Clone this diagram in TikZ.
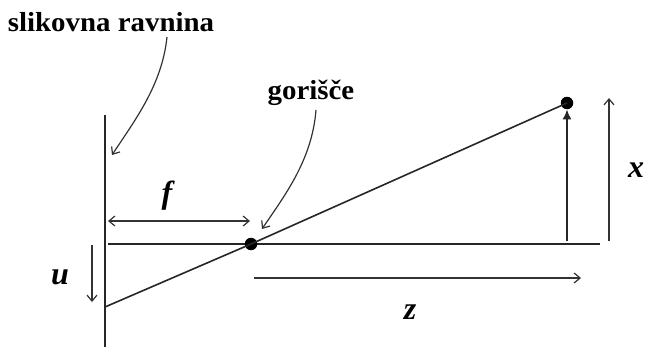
\documentclass[tikz,border=0pt]{standalone}
\usepackage{fontspec}
\setmainfont{Liberation Serif}
\usetikzlibrary{arrows.meta}
\tikzset{
  ln/.style={line width=1.6pt, draw=black!85},
  thin arrow/.style={line width=1.2pt, draw=black!80, -{Straight Barb[length=6pt,width=10pt]}},
  lab/.style={font=\fontsize{27.5}{29}\selectfont\bfseries, inner sep=0pt},
  var/.style={font=\fontsize{32}{33}\selectfont\bfseries\itshape, inner sep=0pt},
  dot/.style={circle, fill=black, inner sep=0pt, minimum size=12.5pt}
}
\begin{document}
\begin{tikzpicture}[x=1pt,y=-1pt]
\useasboundingbox (0,0) rectangle (648,348);
% image plane
\coordinate (pt) at (105,115);
\coordinate (pb) at (105,347);
\draw[ln] (pt) -- (pb);
% optical axis
\coordinate (al) at (108,244);
\coordinate (ar) at (600,244);
\draw[ln] (al) -- (ar);
% focal point and object
\node[dot] (F) at (251,244) {};
\node[dot] (P) at (567,103) {};
\coordinate (img) at (105,307);
\draw[ln] (img) -- (F.center) -- (P.center);
% object arrow
\coordinate (ob) at (567,241);
\draw[ln, -{Latex[length=10pt,width=9pt]}] (ob) -- (P.south);
% x dimension
\coordinate (xb) at (609,241);
\coordinate (xt) at (609,98);
\draw[thin arrow] (xb) -- (xt);
\node[var] (xl) at (636,170) {x};
% z dimension
\coordinate (zl) at (254,278);
\coordinate (zr) at (581,278);
\draw[thin arrow] (zl) -- (zr);
\node[var] (zlab) at (410,312) {z};
% f dimension
\coordinate (fl) at (108,221);
\coordinate (fr) at (250,221);
\draw[thin arrow, {Straight Barb[length=6pt,width=10pt]}-{Straight Barb[length=6pt,width=10pt]}] (fl) -- (fr);
\node[var] (flab) at (167,196) {f};
% u dimension
\coordinate (ut) at (92,245);
\coordinate (ub) at (92,302);
\draw[thin arrow] (ut) -- (ub);
\node[var] (ulab) at (60,277) {u};
% labels
\node[lab, anchor=base] (sr) at (111,31) {\scalebox{1.05}[1]{slikovna ravnina}};
\node[lab, anchor=base] (go) at (311,99) {\scalebox{1.05}[1]{gorišče}};
\coordinate (s1) at (167,37);
\coordinate (s2) at (112,155);
\draw[thin arrow] (s1) .. controls (162,85) and (135,120) .. (s2);
\coordinate (g1) at (316,110);
\coordinate (g2) at (262,229);
\draw[thin arrow] (g1) .. controls (312,160) and (285,195) .. (g2);
\end{tikzpicture}
\end{document}
